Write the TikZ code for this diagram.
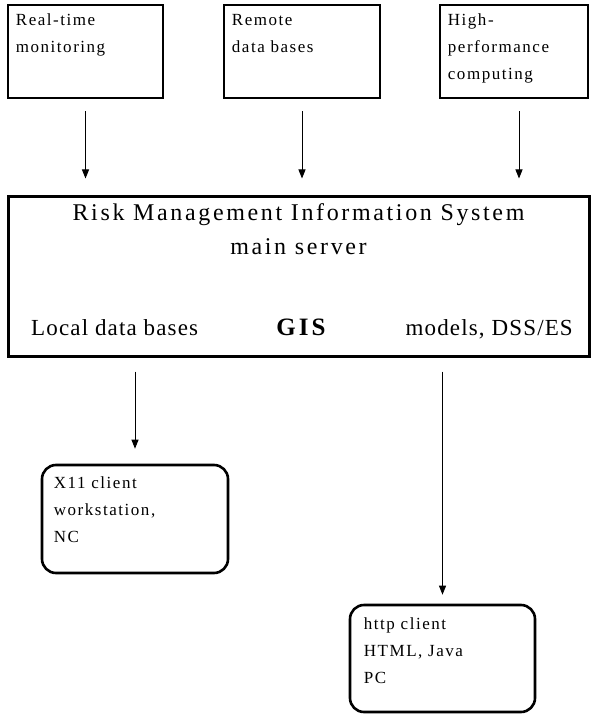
\documentclass[tikz,border=0pt]{standalone}
\usepackage{fontspec}
\setmainfont{Liberation Serif}
\newfontfamily\boxfont[LetterSpace=9]{Liberation Serif}
\newfontfamily\srvfont[LetterSpace=11]{Liberation Serif}
\newfontfamily\rowfont[LetterSpace=5]{Liberation Serif}
\newfontfamily\gisfont[LetterSpace=12]{Liberation Serif}
\usetikzlibrary{arrows.meta}
\tikzset{
  srcbox/.style={draw,line width=2.6pt,minimum height=93pt,inner sep=0pt},
  boxtext/.style={anchor=north west,align=left,inner sep=0pt,
    font=\boxfont\fontsize{17}{27}\selectfont},
  srvbox/.style={draw,line width=3pt,minimum width=581pt,minimum height=160pt,inner sep=0pt},
  srvtext/.style={inner sep=0pt,font=\srvfont\fontsize{24}{34}\selectfont},
  rowtext/.style={inner sep=0pt,anchor=base,font=\rowfont\fontsize{23}{26}\selectfont},
  client/.style={draw,line width=2.6pt,rounded corners=14pt,minimum width=186pt,
    minimum height=108pt,inner sep=0pt},
  flow/.style={-{Triangle[length=9pt,width=7pt]},line width=.9pt}
}
\begin{document}
\begin{tikzpicture}[x=1pt,y=-1pt]
  \useasboundingbox (0,0) rectangle (591,714);
  % data sources
  \node[srcbox,minimum width=155pt] (srcMon) at (85.5,51.5) {};
  \node[srcbox,minimum width=156pt] (srcRemote) at (302,51.5) {};
  \node[srcbox,minimum width=148pt] (srcHpc) at (514,51.5) {};
  \node[boxtext,xshift=9pt,yshift=-10pt] (monTxt) at (srcMon.north west) {Real-time\\monitoring};
  \node[boxtext,xshift=9pt,yshift=-10pt] (remoteTxt) at (srcRemote.north west) {Remote\\data bases};
  \node[boxtext,xshift=9pt,yshift=-10pt] (hpcTxt) at (srcHpc.north west) {High-\\performance\\computing};

  % main server
  \node[srvbox] (server) at (298.5,276) {};
  \node[srvtext,anchor=north,align=center,yshift=-8.5pt] (srvTitle) at (server.north)
       {Risk Management Information System\\main server};
  \node[rowtext,anchor=base west] (srvLocal) at (31,335) {Local data bases};
  \node[rowtext,font=\gisfont\bfseries\fontsize{25}{26}\selectfont] (srvGis) at (301,335) {GIS};
  \node[rowtext,anchor=base east] (srvModels) at (573,335) {models, DSS/ES};

  % clients
  \node[client] (clientX) at (135,519) {};
  \node[client,minimum width=185pt,minimum height=107pt] (clientHttp) at (442.5,658.5) {};
  \node[boxtext,xshift=13pt,yshift=-13pt] (xTxt) at (clientX.north west) {X11 client\\workstation,\\NC};
  \node[boxtext,xshift=15pt,yshift=-14pt] (httpTxt) at (clientHttp.north west) {http client\\HTML, Java\\PC};

  % connectors
  \foreach \s in {srcMon,srcRemote}{
    \draw[flow,shorten <=12pt,shorten >=16pt] (\s.south) -- (\s.south |- server.north);}
  \draw[flow,shorten <=12pt,shorten >=16pt] ([xshift=5pt]srcHpc.south) -- ([xshift=5pt]srcHpc.south |- server.north);
  \draw[flow,shorten <=14pt,shorten >=15pt] (clientX.north |- server.south) -- (clientX.north);
  \draw[flow,shorten <=14pt,shorten >=9pt] (clientHttp.north |- server.south) -- (clientHttp.north);
\end{tikzpicture}
\end{document}
